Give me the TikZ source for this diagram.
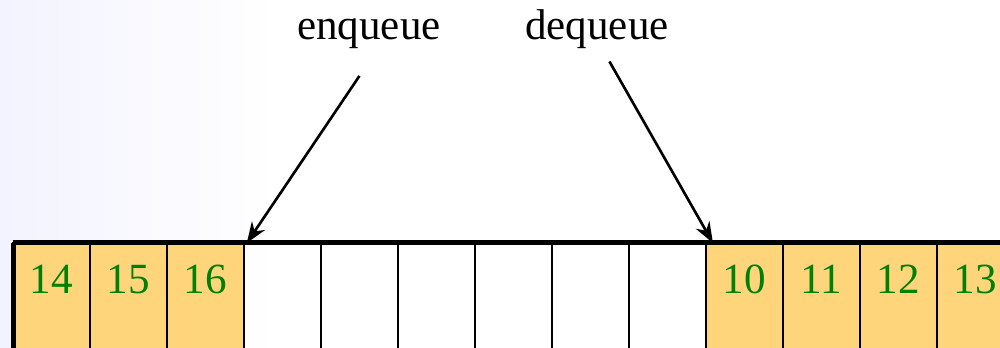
\documentclass[tikz,border=0pt]{standalone}
\usepackage{fontspec}
\setmainfont{Liberation Serif}
\usepackage{tikz}
\usetikzlibrary{arrows.meta}
\definecolor{slotfill}{RGB}{254,213,122}
\definecolor{slotnum}{RGB}{0,128,0}
\definecolor{haze}{RGB}{243,243,255}

\begin{document}
\begin{tikzpicture}
    [   x = 0.72pt
    ,   y = 0.72pt
    ,   > = {Stealth[scale=1.3]}
    ,   slot/.style =
        {   draw
        ,   line width = 1.5pt
        ,   anchor = north west
        ,   inner sep = 0mm
        ,   outer sep = 0mm
        ,   minimum width = 55.44pt
        ,   text height = 36.7pt
        ,   text depth = 57pt
        ,   font = \fontsize{31}{36}\selectfont
        ,   text = slotnum
        }
    ,   full/.style = {fill = slotfill}
    ,   caption/.style =
        {   anchor = base
        ,   inner sep = 0mm
        ,   font = \fontsize{31}{36}\selectfont
        }
    ,   pointer/.style = {->, line width = 1.9pt}
    ,   rim/.style = {line width = 3.6pt}
    ]
    \useasboundingbox (0,0) rectangle (1000,348);
    \clip (0,0) rectangle (1000,348);
    \shade[left color=haze, right color=white] (0,0) rectangle (280,348);

    % ring buffer slots
    \foreach\v [count=\i from 0] in {14,15,16}
    {   \node[slot,full] (c\i) at (13+77*\i,105) {\v};
    }
    \foreach\i in {3,...,8}
    {   \node[slot] (c\i) at (13+77*\i,105) {};
    }
    \foreach\v [count=\i from 9] in {10,11,12,13}
    {   \node[slot,full] (c\i) at (13+77*\i,105) {\v};
    }
    \draw[rim] (c0.north west) -- (c12.north east);
    \draw[rim] (c0.north west) -- (c0.south west);

    % pointers
    \node[caption] (enq) at (369,308) {enqueue};
    \node[caption] (deq) at (597,308) {dequeue};
    \draw[pointer, shorten <=23pt] ([xshift=6pt]enq.south) -- ([xshift=2pt]c3.north west);
    \draw[pointer, shorten <=10pt] ([xshift=4pt]deq.south) -- ([xshift=5pt]c9.north west);

\end{tikzpicture}
\end{document}
